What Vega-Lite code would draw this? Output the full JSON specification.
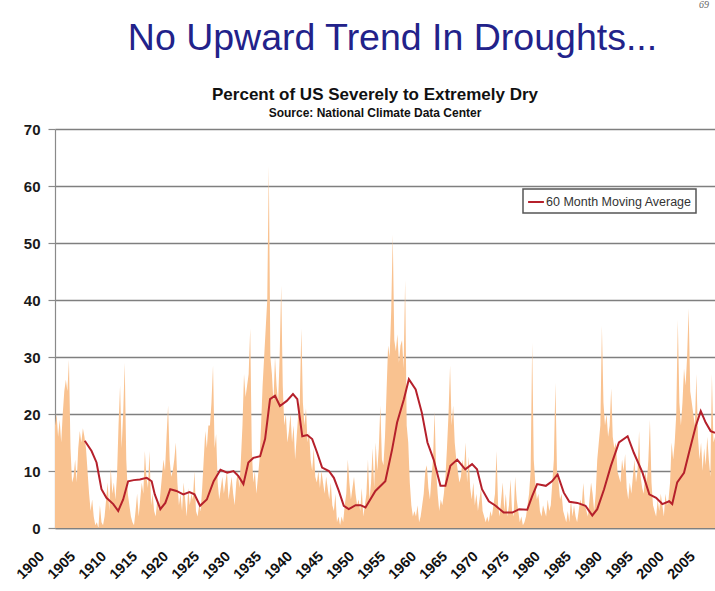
{
  "$schema": "https://vega.github.io/schema/vega-lite/v6.json",
  "padding": {"left": 0, "top": 0, "right": 0, "bottom": 0},
  "background": "white",
  "config": {
    "view": {"stroke": null},
    "concat": {"spacing": 0},
    "legend": {
      "orient": "none", "legendX": 468, "legendY": 60,
      "strokeColor": "#555555", "strokeWidth": 1.5, "fillColor": "white", "padding": 4,
      "labelFont": "Liberation Sans", "labelFontSize": 12.5, "labelColor": "#333333",
      "symbolType": "stroke", "symbolSize": 250, "symbolStrokeWidth": 2, "labelOffset": 1
    }
  },
  "title": {"text": "69", "anchor": "end", "fontSize": 10, "fontStyle": "italic", "fontWeight": "normal", "font": "Liberation Serif", "color": "#666666", "dx": -6, "dy": 5, "offset": 14.5},
  "datasets": {
    "dry": [
      {"t":1900,"v":18},{"t":1900.25,"v":20},{"t":1900.5,"v":16},{"t":1900.75,"v":19},
      {"t":1901,"v":15},{"t":1901.25,"v":20},{"t":1901.5,"v":24},{"t":1901.75,"v":26},
      {"t":1902,"v":24},{"t":1902.25,"v":29.5},{"t":1902.5,"v":14},{"t":1902.75,"v":8},
      {"t":1903,"v":9},{"t":1903.25,"v":12},{"t":1903.5,"v":8},{"t":1903.75,"v":14},
      {"t":1904,"v":17},{"t":1904.25,"v":15},{"t":1904.5,"v":17.5},{"t":1904.75,"v":16},
      {"t":1905,"v":14},{"t":1905.25,"v":10},{"t":1905.5,"v":6},{"t":1905.75,"v":3},
      {"t":1906,"v":5},{"t":1906.25,"v":2},{"t":1906.5,"v":0.5},{"t":1906.75,"v":1},
      {"t":1907,"v":0},{"t":1907.25,"v":4},{"t":1907.5,"v":1},{"t":1907.75,"v":0.5},
      {"t":1908,"v":2},{"t":1908.25,"v":5},{"t":1908.5,"v":8},{"t":1908.75,"v":3},
      {"t":1909,"v":10.5},{"t":1909.25,"v":6},{"t":1909.5,"v":8},{"t":1909.75,"v":5},
      {"t":1910,"v":9},{"t":1910.25,"v":18},{"t":1910.5,"v":25},{"t":1910.75,"v":14},
      {"t":1911,"v":20},{"t":1911.25,"v":29},{"t":1911.5,"v":12},{"t":1911.75,"v":6},
      {"t":1912,"v":4},{"t":1912.25,"v":2},{"t":1912.5,"v":1},{"t":1912.75,"v":0.5},
      {"t":1913,"v":3},{"t":1913.25,"v":6},{"t":1913.5,"v":2},{"t":1913.75,"v":5},
      {"t":1914,"v":8},{"t":1914.25,"v":6},{"t":1914.5,"v":13.5},{"t":1914.75,"v":9},
      {"t":1915,"v":7},{"t":1915.25,"v":13.5},{"t":1915.5,"v":4},{"t":1915.75,"v":6},
      {"t":1916,"v":3},{"t":1916.25,"v":2},{"t":1916.5,"v":5},{"t":1916.75,"v":3},
      {"t":1917,"v":6},{"t":1917.25,"v":9},{"t":1917.5,"v":12},{"t":1917.75,"v":10},
      {"t":1918,"v":16},{"t":1918.25,"v":21.5},{"t":1918.5,"v":12},{"t":1918.75,"v":9},
      {"t":1919,"v":10},{"t":1919.25,"v":12},{"t":1919.5,"v":15},{"t":1919.75,"v":8},
      {"t":1920,"v":4},{"t":1920.25,"v":6},{"t":1920.5,"v":3},{"t":1920.75,"v":8},
      {"t":1921,"v":5},{"t":1921.25,"v":2},{"t":1921.5,"v":7},{"t":1921.75,"v":4},
      {"t":1922,"v":6},{"t":1922.25,"v":5},{"t":1922.5,"v":10},{"t":1922.75,"v":3},
      {"t":1923,"v":2},{"t":1923.25,"v":4},{"t":1923.5,"v":3},{"t":1923.75,"v":7},
      {"t":1924,"v":12},{"t":1924.25,"v":17},{"t":1924.5,"v":14},{"t":1924.75,"v":18},
      {"t":1925,"v":18},{"t":1925.25,"v":22},{"t":1925.5,"v":28.5},{"t":1925.75,"v":14},
      {"t":1926,"v":16.5},{"t":1926.25,"v":8},{"t":1926.5,"v":5},{"t":1926.75,"v":7},
      {"t":1927,"v":9},{"t":1927.25,"v":6},{"t":1927.5,"v":8},{"t":1927.75,"v":10},
      {"t":1928,"v":5},{"t":1928.25,"v":7},{"t":1928.5,"v":9},{"t":1928.75,"v":6},
      {"t":1929,"v":4},{"t":1929.25,"v":8},{"t":1929.5,"v":10},{"t":1929.75,"v":7},
      {"t":1930,"v":12},{"t":1930.25,"v":18},{"t":1930.5,"v":27},{"t":1930.75,"v":23},
      {"t":1931,"v":25},{"t":1931.25,"v":27},{"t":1931.5,"v":35},{"t":1931.75,"v":14},
      {"t":1932,"v":8},{"t":1932.25,"v":10},{"t":1932.5,"v":6},{"t":1932.75,"v":9},
      {"t":1933,"v":12},{"t":1933.25,"v":18},{"t":1933.5,"v":25},{"t":1933.75,"v":30},
      {"t":1934,"v":35},{"t":1934.25,"v":40},{"t":1934.5,"v":63.5},{"t":1934.75,"v":30},
      {"t":1935,"v":27},{"t":1935.25,"v":22},{"t":1935.5,"v":30},{"t":1935.75,"v":25},
      {"t":1936,"v":22},{"t":1936.25,"v":30},{"t":1936.5,"v":42.5},{"t":1936.75,"v":25},
      {"t":1937,"v":18},{"t":1937.25,"v":20},{"t":1937.5,"v":15},{"t":1937.75,"v":17},
      {"t":1938,"v":20},{"t":1938.25,"v":15},{"t":1938.5,"v":18},{"t":1938.75,"v":12},
      {"t":1939,"v":16},{"t":1939.25,"v":20},{"t":1939.5,"v":22},{"t":1939.75,"v":35},
      {"t":1940,"v":22},{"t":1940.25,"v":18},{"t":1940.5,"v":21},{"t":1940.75,"v":15},
      {"t":1941,"v":17},{"t":1941.25,"v":12},{"t":1941.5,"v":10},{"t":1941.75,"v":14},
      {"t":1942,"v":9},{"t":1942.25,"v":8},{"t":1942.5,"v":10},{"t":1942.75,"v":7},
      {"t":1943,"v":10},{"t":1943.25,"v":8},{"t":1943.5,"v":6},{"t":1943.75,"v":9},
      {"t":1944,"v":7},{"t":1944.25,"v":5},{"t":1944.5,"v":8},{"t":1944.75,"v":4},
      {"t":1945,"v":3},{"t":1945.25,"v":6},{"t":1945.5,"v":1},{"t":1945.75,"v":2},
      {"t":1946,"v":0.5},{"t":1946.25,"v":2},{"t":1946.5,"v":1},{"t":1946.75,"v":4},
      {"t":1947,"v":6},{"t":1947.25,"v":12},{"t":1947.5,"v":8},{"t":1947.75,"v":5},
      {"t":1948,"v":7},{"t":1948.25,"v":9},{"t":1948.5,"v":6},{"t":1948.75,"v":4},
      {"t":1949,"v":5},{"t":1949.25,"v":3},{"t":1949.5,"v":7},{"t":1949.75,"v":2},
      {"t":1950,"v":4},{"t":1950.25,"v":6},{"t":1950.5,"v":12},{"t":1950.75,"v":5},
      {"t":1951,"v":8},{"t":1951.25,"v":14},{"t":1951.5,"v":7},{"t":1951.75,"v":15},
      {"t":1952,"v":10},{"t":1952.25,"v":14},{"t":1952.5,"v":21.5},{"t":1952.75,"v":12},
      {"t":1953,"v":11},{"t":1953.25,"v":16},{"t":1953.5,"v":24},{"t":1953.75,"v":32},
      {"t":1954,"v":30},{"t":1954.25,"v":38},{"t":1954.5,"v":51.5},{"t":1954.75,"v":33},
      {"t":1955,"v":31},{"t":1955.25,"v":34},{"t":1955.5,"v":29},{"t":1955.75,"v":32},
      {"t":1956,"v":33},{"t":1956.25,"v":28},{"t":1956.5,"v":43.5},{"t":1956.75,"v":18},
      {"t":1957,"v":15},{"t":1957.25,"v":8},{"t":1957.5,"v":4},{"t":1957.75,"v":2},
      {"t":1958,"v":3},{"t":1958.25,"v":2},{"t":1958.5,"v":4},{"t":1958.75,"v":1},
      {"t":1959,"v":2},{"t":1959.25,"v":4},{"t":1959.5,"v":6},{"t":1959.75,"v":10},
      {"t":1960,"v":11},{"t":1960.25,"v":7},{"t":1960.5,"v":5},{"t":1960.75,"v":9},
      {"t":1961,"v":12},{"t":1961.25,"v":20.5},{"t":1961.5,"v":10},{"t":1961.75,"v":6},
      {"t":1962,"v":3},{"t":1962.25,"v":5},{"t":1962.5,"v":4},{"t":1962.75,"v":6},
      {"t":1963,"v":9},{"t":1963.25,"v":14},{"t":1963.5,"v":20},{"t":1963.75,"v":28.5},
      {"t":1964,"v":18},{"t":1964.25,"v":21.5},{"t":1964.5,"v":15},{"t":1964.75,"v":12},
      {"t":1965,"v":10},{"t":1965.25,"v":8},{"t":1965.5,"v":9},{"t":1965.75,"v":12},
      {"t":1966,"v":10},{"t":1966.25,"v":15},{"t":1966.5,"v":8},{"t":1966.75,"v":12.5},
      {"t":1967,"v":7},{"t":1967.25,"v":5},{"t":1967.5,"v":8},{"t":1967.75,"v":4},
      {"t":1968,"v":6},{"t":1968.25,"v":3},{"t":1968.5,"v":5},{"t":1968.75,"v":7},
      {"t":1969,"v":3},{"t":1969.25,"v":2},{"t":1969.5,"v":1},{"t":1969.75,"v":2},
      {"t":1970,"v":1},{"t":1970.25,"v":3},{"t":1970.5,"v":2},{"t":1970.75,"v":4},
      {"t":1971,"v":6},{"t":1971.25,"v":13.5},{"t":1971.5,"v":4},{"t":1971.75,"v":2},
      {"t":1972,"v":5},{"t":1972.25,"v":8},{"t":1972.5,"v":3},{"t":1972.75,"v":6},
      {"t":1973,"v":2},{"t":1973.25,"v":4},{"t":1973.5,"v":8.5},{"t":1973.75,"v":3},
      {"t":1974,"v":2},{"t":1974.25,"v":9},{"t":1974.5,"v":5},{"t":1974.75,"v":3},
      {"t":1975,"v":1},{"t":1975.25,"v":2},{"t":1975.5,"v":0.5},{"t":1975.75,"v":1},
      {"t":1976,"v":2},{"t":1976.25,"v":4},{"t":1976.5,"v":6},{"t":1976.75,"v":10},
      {"t":1977,"v":32.5},{"t":1977.25,"v":12},{"t":1977.5,"v":8},{"t":1977.75,"v":5},
      {"t":1978,"v":6},{"t":1978.25,"v":3},{"t":1978.5,"v":2},{"t":1978.75,"v":4},
      {"t":1979,"v":3},{"t":1979.25,"v":2},{"t":1979.5,"v":5},{"t":1979.75,"v":3},
      {"t":1980,"v":4},{"t":1980.25,"v":8},{"t":1980.5,"v":12},{"t":1980.75,"v":25.5},
      {"t":1981,"v":10},{"t":1981.25,"v":8},{"t":1981.5,"v":5},{"t":1981.75,"v":6},
      {"t":1982,"v":3},{"t":1982.25,"v":2},{"t":1982.5,"v":1},{"t":1982.75,"v":3},
      {"t":1983,"v":1},{"t":1983.25,"v":5},{"t":1983.5,"v":2},{"t":1983.75,"v":4},
      {"t":1984,"v":2},{"t":1984.25,"v":1},{"t":1984.5,"v":3},{"t":1984.75,"v":5},
      {"t":1985,"v":4},{"t":1985.25,"v":7.9},{"t":1985.5,"v":4},{"t":1985.75,"v":3},
      {"t":1986,"v":2},{"t":1986.25,"v":5},{"t":1986.5,"v":8},{"t":1986.75,"v":6},
      {"t":1987,"v":3},{"t":1987.25,"v":6},{"t":1987.5,"v":12},{"t":1987.75,"v":15},
      {"t":1988,"v":18},{"t":1988.25,"v":35.5},{"t":1988.5,"v":22},{"t":1988.75,"v":18},
      {"t":1989,"v":20},{"t":1989.25,"v":16},{"t":1989.5,"v":18},{"t":1989.75,"v":24.5},
      {"t":1990,"v":16},{"t":1990.25,"v":14},{"t":1990.5,"v":15},{"t":1990.75,"v":10},
      {"t":1991,"v":9},{"t":1991.25,"v":8},{"t":1991.5,"v":12},{"t":1991.75,"v":10},
      {"t":1992,"v":13},{"t":1992.25,"v":7},{"t":1992.5,"v":5},{"t":1992.75,"v":8},
      {"t":1993,"v":6},{"t":1993.25,"v":9},{"t":1993.5,"v":12},{"t":1993.75,"v":8},
      {"t":1994,"v":10},{"t":1994.25,"v":17},{"t":1994.5,"v":9},{"t":1994.75,"v":7},
      {"t":1995,"v":6},{"t":1995.25,"v":10},{"t":1995.5,"v":8},{"t":1995.75,"v":12},
      {"t":1996,"v":19},{"t":1996.25,"v":8},{"t":1996.5,"v":4},{"t":1996.75,"v":3},
      {"t":1997,"v":2},{"t":1997.25,"v":5},{"t":1997.5,"v":3},{"t":1997.75,"v":6},
      {"t":1998,"v":4},{"t":1998.25,"v":2},{"t":1998.5,"v":6},{"t":1998.75,"v":4},
      {"t":1999,"v":5},{"t":1999.25,"v":8},{"t":1999.5,"v":15},{"t":1999.75,"v":12},
      {"t":2000,"v":15},{"t":2000.25,"v":20},{"t":2000.5,"v":36.5},{"t":2000.75,"v":22},
      {"t":2001,"v":18},{"t":2001.25,"v":22},{"t":2001.5,"v":28},{"t":2001.75,"v":25},
      {"t":2002,"v":30},{"t":2002.25,"v":38.5},{"t":2002.5,"v":24},{"t":2002.75,"v":22},
      {"t":2003,"v":20},{"t":2003.25,"v":18},{"t":2003.5,"v":27},{"t":2003.75,"v":16},
      {"t":2004,"v":12},{"t":2004.25,"v":15},{"t":2004.5,"v":10},{"t":2004.75,"v":14},
      {"t":2005,"v":11},{"t":2005.25,"v":16},{"t":2005.5,"v":12},{"t":2005.75,"v":9},
      {"t":2006,"v":27},{"t":2006.25,"v":15},{"t":2006.5,"v":16}
    ],
    "ma": [
      {"t":1904.8,"v":15.3},{"t":1905.9,"v":13.5},{"t":1906.7,"v":11.5},{"t":1907.5,"v":6.8},
      {"t":1908.3,"v":5.3},{"t":1909.4,"v":4.2},{"t":1910.2,"v":3},{"t":1911,"v":5},
      {"t":1911.8,"v":8.2},{"t":1912.7,"v":8.4},{"t":1913.7,"v":8.5},{"t":1914.8,"v":8.8},
      {"t":1915.6,"v":8.2},{"t":1916.1,"v":5.9},{"t":1917,"v":3.3},{"t":1917.8,"v":4.4},
      {"t":1918.6,"v":6.8},{"t":1919.6,"v":6.5},{"t":1920.7,"v":5.9},{"t":1921.7,"v":6.3},
      {"t":1922.5,"v":5.9},{"t":1923.4,"v":3.9},{"t":1924.5,"v":5},{"t":1925.6,"v":8.2},
      {"t":1926.7,"v":10.2},{"t":1927.8,"v":9.7},{"t":1928.8,"v":10},{"t":1929.6,"v":9.1},
      {"t":1930.4,"v":7.7},{"t":1931.2,"v":11.5},{"t":1932,"v":12.3},{"t":1933.1,"v":12.6},
      {"t":1933.9,"v":15.6},{"t":1934.7,"v":22.6},{"t":1935.5,"v":23.2},{"t":1936.3,"v":21.4},
      {"t":1937.4,"v":22.3},{"t":1938.4,"v":23.5},{"t":1939.1,"v":22.6},{"t":1939.9,"v":16.1},
      {"t":1940.7,"v":16.3},{"t":1941.5,"v":15.6},{"t":1942.3,"v":13.2},{"t":1943.1,"v":10.6},
      {"t":1944.2,"v":10},{"t":1945,"v":8.8},{"t":1945.8,"v":6.5},{"t":1946.6,"v":3.9},
      {"t":1947.4,"v":3.3},{"t":1948.5,"v":4},{"t":1949.3,"v":4},{"t":1950.1,"v":3.6},
      {"t":1951.7,"v":6.5},{"t":1953.3,"v":8.2},{"t":1954.4,"v":13.8},{"t":1955.2,"v":18.5},
      {"t":1956.3,"v":22.6},{"t":1957.1,"v":26.1},{"t":1958.2,"v":24.3},{"t":1959.2,"v":20.2},
      {"t":1960.1,"v":15},{"t":1961.1,"v":12},{"t":1962.2,"v":7.4},{"t":1963,"v":7.4},
      {"t":1963.8,"v":10.9},{"t":1964.9,"v":12},{"t":1966.2,"v":10.3},{"t":1967.3,"v":11.2},
      {"t":1968.1,"v":10.3},{"t":1968.9,"v":6.8},{"t":1970,"v":4.7},{"t":1971.1,"v":3.9},
      {"t":1972.4,"v":2.7},{"t":1973.8,"v":2.7},{"t":1974.9,"v":3.3},{"t":1976.2,"v":3.2},
      {"t":1977,"v":5.6},{"t":1977.8,"v":7.7},{"t":1979.2,"v":7.4},{"t":1980.2,"v":8.2},
      {"t":1981.1,"v":9.4},{"t":1982.1,"v":6.2},{"t":1983,"v":4.6},{"t":1984.3,"v":4.4},
      {"t":1985.6,"v":3.9},{"t":1986.7,"v":2.2},{"t":1987.5,"v":3.3},{"t":1988.6,"v":6.8},
      {"t":1989.7,"v":10.9},{"t":1991,"v":15},{"t":1992.4,"v":16.1},{"t":1993.4,"v":13.2},
      {"t":1994.8,"v":9.7},{"t":1995.9,"v":5.9},{"t":1997,"v":5.3},{"t":1998,"v":4.2},
      {"t":1999.1,"v":4.7},{"t":1999.6,"v":4.2},{"t":2000.4,"v":8},{"t":2001.5,"v":9.7},
      {"t":2002.3,"v":13.2},{"t":2003.4,"v":17.9},{"t":2004.2,"v":20.5},{"t":2005,"v":18.5},
      {"t":2005.8,"v":17},{"t":2006.5,"v":16.7}
    ]
  },
  "vconcat": [
    {
      "title": {"text": "No Upward Trend In Droughts...", "anchor": "middle", "fontSize": 37.5, "font": "Liberation Sans", "fontWeight": "normal", "color": "#22228a", "dx": 35, "offset": 29},
      "vconcat": [
        {
          "width": 660,
          "height": 399,
          "title": {
            "text": "Percent of US Severely to Extremely Dry",
            "subtitle": "Source:  National Climate Data Center",
            "anchor": "middle", "dx": -10,
            "font": "Liberation Sans", "fontSize": 17, "fontWeight": "bold", "color": "#111111",
            "subtitleFont": "Liberation Sans", "subtitleFontSize": 12, "subtitleFontWeight": "bold", "subtitleColor": "#111111",
            "subtitlePadding": 4, "offset": 2
          },
          "encoding": {
            "x": {"field": "t", "type": "quantitative",
              "scale": {"domain": [1900, 2006.5], "nice": false, "zero": false},
              "axis": {"title": null, "values": [1900,1905,1910,1915,1920,1925,1930,1935,1940,1945,1950,1955,1960,1965,1970,1975,1980,1985,1990,1995,2000,2005],
                "format": "d", "labelAngle": -45, "labelAlign": "right", "labelBaseline": "top",
                "labelPadding": 21, "labelOffset": -18, "ticks": false, "grid": false,
                "domainColor": "#808080", "domainWidth": 1.5,
                "labelFont": "Liberation Sans", "labelFontSize": 14.5, "labelFontWeight": "bold", "labelColor": "#111111",
                "labelOverlap": false, "labelBound": false, "minExtent": 60, "maxExtent": 60}},
            "y": {"field": "v", "type": "quantitative",
              "scale": {"domain": [0, 70], "nice": false},
              "axis": {"title": null, "values": [0,10,20,30,40,50,60,70], "grid": true, "gridColor": "#7f7f7f", "gridWidth": 1.6,
                "domainColor": "#8a8a8a", "domainWidth": 1.2, "tickColor": "#8a8a8a", "tickSize": 7, "tickWidth": 1.2,
                "labelPadding": 8, "labelFont": "Liberation Sans", "labelFontSize": 15, "labelFontWeight": "bold", "labelColor": "#1a1a1a",
                "minExtent": 55, "maxExtent": 55}}
          },
          "layer": [
            {
              "data": {"name": "dry"},
              "mark": {"type": "area", "color": "#f9c290", "clip": true, "opacity": 1}
            },
            {
              "data": {"name": "ma"},
              "mark": {"type": "line", "strokeWidth": 2, "clip": true},
              "encoding": {
                "color": {"datum": "60 Month Moving Average", "type": "nominal", "scale": {"range": ["#b5202b"]}, "legend": {"title": null}}
              }
            }
          ]
        }
      ]
    }
  ]
}
